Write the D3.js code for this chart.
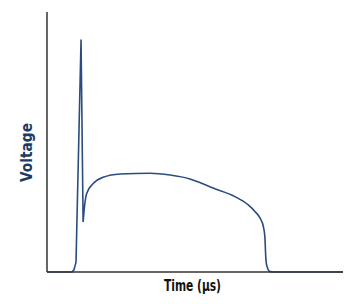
<!DOCTYPE html>
<html>
<head>
<meta charset="utf-8">
<script src="https://cdn.jsdelivr.net/npm/d3@7"></script>
<style>
body { margin: 0; background: #fff; }
</style>
</head>
<body>
<svg id="chart" width="363" height="304"></svg>
<script>
// time in µs (arbitrary units), voltage in % of axis height
const time = [0, 8.4, 9.1, 9.8, 11.5, 12.2, 12.7, 13.4, 15.6, 18.9, 24.7, 34.8, 41.6, 48.3, 56.1, 63.5, 68.0, 70.3, 72.0, 73.1, 73.6, 73.9, 74.2, 75.3, 76.7, 100];
const voltage = [0, 0, 0.8, 3.8, 89.2, 19.2, 25.5, 30.2, 34.0, 36.4, 37.7, 38.0, 37.3, 35.8, 32.3, 29.0, 25.8, 23.2, 20.7, 17.4, 13.6, 5.9, 2.7, 0.2, 0, 0];
const troughIndex = 5; // spike ends here, smooth plateau starts

const xLabel = "Time (µs)";
const yLabel = "Voltage";

const svg = d3.select("#chart");

const plotLeft = 47, plotRight = 343, plotTop = 12, plotBottom = 272;

const x = d3.scaleLinear().domain([0, 100]).range([plotLeft, plotRight]);
const y = d3.scaleLinear().domain([0, 100]).range([plotBottom, plotTop]);

const points = time.map((t, i) => [t, voltage[i]]);

const spikeLine = d3.line()
    .x(d => x(d[0]))
    .y(d => y(d[1]));

const smoothLine = d3.line()
    .x(d => x(d[0]))
    .y(d => y(d[1]))
    .curve(d3.curveMonotoneX);

// the curve: sharp spike, then the smooth plateau
svg.append("path")
    .attr("fill", "none")
    .attr("stroke", "#2b4c7e")
    .attr("stroke-width", 1.6)
    .attr("stroke-linejoin", "round")
    .attr("d", spikeLine(points.slice(0, troughIndex + 1)) + smoothLine(points.slice(troughIndex)));

// axes, no ticks
svg.append("line")
    .attr("x1", x(0)).attr("x2", x(0))
    .attr("y1", y(100)).attr("y2", y(0))
    .attr("stroke", "#333")
    .attr("stroke-width", 1.5);

svg.append("line")
    .attr("x1", x(0)).attr("x2", x(100))
    .attr("y1", y(0)).attr("y2", y(0))
    .attr("stroke", "#333")
    .attr("stroke-width", 1.5);

svg.append("text")
    .text(xLabel)
    .attr("x", 192.5)
    .attr("y", 291)
    .attr("text-anchor", "middle")
    .attr("font-family", "'Liberation Sans Narrow', 'DejaVu Sans Condensed', sans-serif")
    .attr("font-weight", "bold")
    .attr("font-size", 16)
    .attr("textLength", 57)
    .attr("lengthAdjust", "spacingAndGlyphs")
    .attr("fill", "#111");

svg.append("text")
    .text(yLabel)
    .attr("transform", "translate(32,152.5) rotate(-90)")
    .attr("text-anchor", "middle")
    .attr("font-family", "'Liberation Sans Narrow', 'DejaVu Sans Condensed', sans-serif")
    .attr("font-weight", "bold")
    .attr("font-size", 15)
    .attr("textLength", 59)
    .attr("lengthAdjust", "spacingAndGlyphs")
    .attr("fill", "#1c3b63");
</script>
</body>
</html>
